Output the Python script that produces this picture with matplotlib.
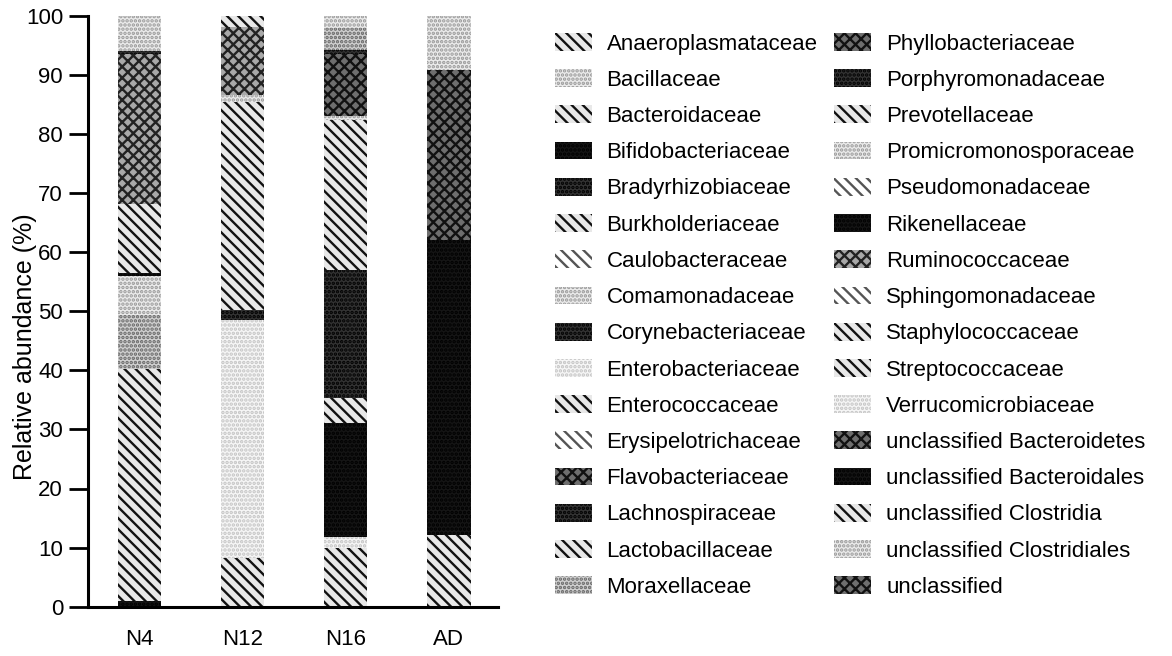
import matplotlib
matplotlib.use("Agg")
import matplotlib.pyplot as plt
from matplotlib.patches import Patch

plt.rcParams["font.family"] = ["Liberation Sans", "DejaVu Sans"]
plt.rcParams["hatch.linewidth"] = 1.7

# Legend taxa (two columns of 16)
taxa = [
    "Anaeroplasmataceae", "Bacillaceae", "Bacteroidaceae", "Bifidobacteriaceae",
    "Bradyrhizobiaceae", "Burkholderiaceae", "Caulobacteraceae", "Comamonadaceae",
    "Corynebacteriaceae", "Enterobacteriaceae", "Enterococcaceae", "Erysipelotrichaceae",
    "Flavobacteriaceae", "Lachnospiraceae", "Lactobacillaceae", "Moraxellaceae",
    "Phyllobacteriaceae", "Porphyromonadaceae", "Prevotellaceae", "Promicromonosporaceae",
    "Pseudomonadaceae", "Rikenellaceae", "Ruminococcaceae", "Sphingomonadaceae",
    "Staphylococcaceae", "Streptococcaceae", "Verrucomicrobiaceae",
    "unclassified Bacteroidetes", "unclassified Bacteroidales", "unclassified Clostridia",
    "unclassified Clostridiales", "unclassified",
]

samples = ["N4", "N12", "N16", "AD"]

# Segments of each bar, bottom to top (relative abundance, %)
n4_taxa = ["Bifidobacteriaceae", "Lactobacillaceae", "Moraxellaceae",
           "Promicromonosporaceae", "Rikenellaceae", "Staphylococcaceae",
           "Ruminococcaceae", "Corynebacteriaceae", "unclassified Clostridiales"]
n4_vals = [1.0, 39.3, 9.1, 6.6, 0.5, 11.6, 25.5, 0.4, 6.0]

n12_taxa = ["Lactobacillaceae", "Enterobacteriaceae", "Porphyromonadaceae",
            "Prevotellaceae", "Comamonadaceae", "Ruminococcaceae", "Bacteroidaceae"]
n12_vals = [8.2, 40.3, 1.7, 35.2, 1.2, 11.5, 1.9]

n16_taxa = ["Enterococcaceae", "Verrucomicrobiaceae", "unclassified Bacteroidales",
            "unclassified Clostridia", "Lachnospiraceae", "Prevotellaceae",
            "Bacillaceae", "Phyllobacteriaceae", "Bradyrhizobiaceae",
            "Moraxellaceae", "unclassified Clostridiales"]
n16_vals = [9.9, 1.9, 19.2, 4.3, 21.7, 25.4, 0.6, 10.5, 0.7, 3.8, 2.0]

ad_taxa = ["Staphylococcaceae", "unclassified Bacteroidales", "unclassified",
           "Flavobacteriaceae", "unclassified Clostridiales"]
ad_vals = [12.1, 49.9, 17.0, 11.8, 9.2]

# Grey-scale fill styles: (face colour, hatch colour, hatch)
looks = {
    "diag": ("#e8e8e8", "#111111", "\\\\\\"),
    "diag_light": ("white", "#555555", "\\\\\\"),
    "dots_light": ("#ebebeb", "#999999", "...."),
    "dots_vlight": ("#f6f6f6", "#c4c4c4", "...."),
    "dots_med": ("#d0d0d0", "#666666", "...."),
    "cross_med": ("#a8a8a8", "#222222", "xxx"),
    "cross_dark": ("#6e6e6e", "#111111", "xxx"),
    "dark": ("#333333", "#000000", "...."),
    "black": ("#151515", "#000000", "...."),
}
taxon_look = {
    "Anaeroplasmataceae": "diag", "Bacillaceae": "dots_light",
    "Bacteroidaceae": "diag", "Bifidobacteriaceae": "black",
    "Bradyrhizobiaceae": "dark", "Burkholderiaceae": "diag",
    "Caulobacteraceae": "diag_light", "Comamonadaceae": "dots_light",
    "Corynebacteriaceae": "dark", "Enterobacteriaceae": "dots_vlight",
    "Enterococcaceae": "diag", "Erysipelotrichaceae": "diag_light",
    "Flavobacteriaceae": "cross_dark", "Lachnospiraceae": "dark",
    "Lactobacillaceae": "diag", "Moraxellaceae": "dots_med",
    "Phyllobacteriaceae": "cross_dark", "Porphyromonadaceae": "dark",
    "Prevotellaceae": "diag", "Promicromonosporaceae": "dots_light",
    "Pseudomonadaceae": "diag_light", "Rikenellaceae": "black",
    "Ruminococcaceae": "cross_med", "Sphingomonadaceae": "diag_light",
    "Staphylococcaceae": "diag", "Streptococcaceae": "diag",
    "Verrucomicrobiaceae": "dots_vlight", "unclassified Bacteroidetes": "cross_dark",
    "unclassified Bacteroidales": "black", "unclassified Clostridia": "diag",
    "unclassified Clostridiales": "dots_light", "unclassified": "cross_dark",
}


def main():
    fig = plt.figure(figsize=(11.72, 6.56), dpi=100)
    ax = fig.add_axes([88 / 1172, 49.3 / 656, 410 / 1172, 591 / 656])

    bars = [(n4_taxa, n4_vals), (n12_taxa, n12_vals),
            (n16_taxa, n16_vals), (ad_taxa, ad_vals)]
    for i, (names, vals) in enumerate(bars):
        bottom = 0.0
        for name, v in zip(names, vals):
            face, hcol, hatch = looks[taxon_look[name]]
            ax.bar(i, v, bottom=bottom, width=0.42, color=face,
                   edgecolor=hcol, hatch=hatch, linewidth=0)
            bottom += v

    ax.set_xlim(-0.5, 3.476)
    ax.set_ylim(0, 100)
    ax.set_xticks(range(len(samples)))
    ax.set_xticklabels(samples, fontsize=16)
    ax.set_yticks(range(0, 101, 10))
    ax.tick_params(axis="y", labelsize=16, length=14, width=2, pad=4)
    ax.tick_params(axis="x", length=0, pad=16)
    for side in ["top", "right"]:
        ax.spines[side].set_visible(False)
    for side in ["left", "bottom"]:
        ax.spines[side].set_linewidth(2.2)
    ax.set_ylabel("Relative abundance (%)", fontsize=18)
    ax.yaxis.set_label_coords(-0.125, 0.44)

    # Legend patches in the same fill styles
    handles = []
    for name in taxa:
        face, hcol, hatch = looks[taxon_look[name]]
        handles.append(Patch(facecolor=face, edgecolor=hcol, hatch=hatch,
                             linewidth=0))
    fig.legend(handles, taxa, ncol=2, loc="upper left",
               bbox_to_anchor=(555 / 1172, 1 - 33 / 656), frameon=False,
               fontsize=16, handlelength=1.65, handleheight=0.85,
               handletextpad=0.67, columnspacing=0.76, labelspacing=0.66,
               borderpad=0, borderaxespad=0)

    fig.savefig("out.png", dpi=100)


if __name__ == "__main__":
    main()
